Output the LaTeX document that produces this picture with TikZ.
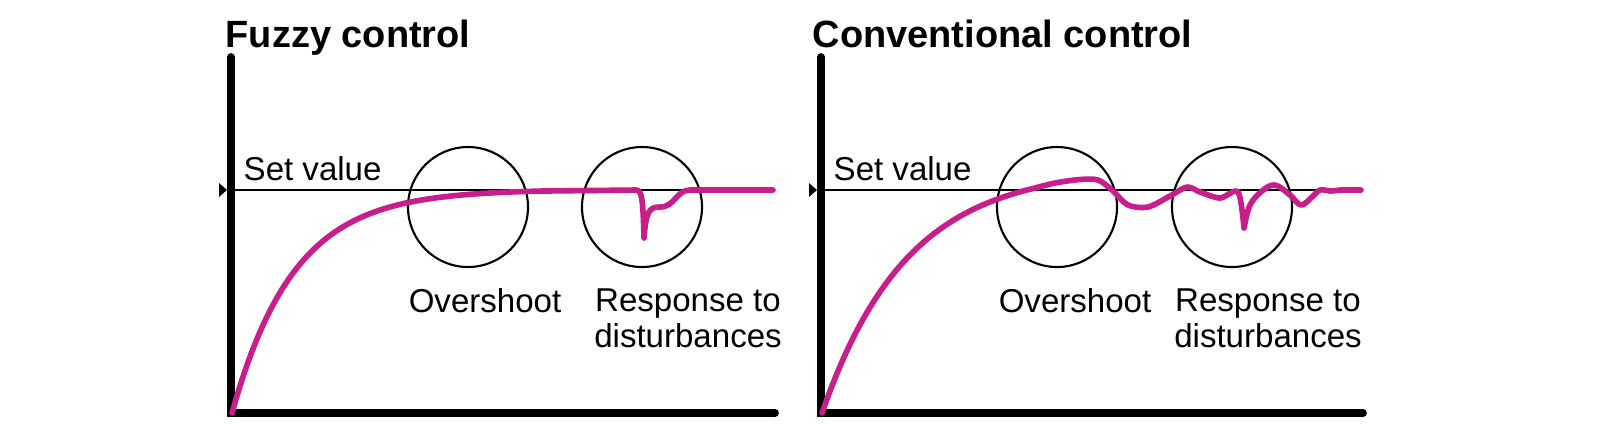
\documentclass[tikz,border=0pt]{standalone}
\usepackage{fontspec}
\setmainfont{Liberation Sans}
\begin{document}
\begin{tikzpicture}[x=0.01cm,y=-0.01cm,line cap=round]
    \useasboundingbox (0,0) rectangle (1600,435);

    % Styles
    \tikzstyle{axes}=[line width=2.2pt]
    \tikzstyle{setline}=[line width=0.5pt]
    \tikzstyle{ring}=[line width=0.6pt]
    \tikzstyle{response}=[line width=1.6pt, color=respcol, line join=round]
    \tikzstyle{label}=[font=\fontsize{9.4pt}{10.2pt}\selectfont, align=center, inner sep=0pt]
    \tikzstyle{title}=[font=\fontsize{10.8pt}{12pt}\selectfont\bfseries, anchor=base west, inner sep=0pt]
    \definecolor{respcol}{RGB}{200,30,140}

    % let's define some key values
    \def\yset{190}
    \def\ybase{413}
    \def\ytop{57}

    % ---------- left panel: fuzzy control ----------
    \node[title] (ftitle) at (225,47) {Fuzzy control};
    \coordinate (fo) at (231,\ybase);
    \coordinate (fy) at (231,\ytop);
    \coordinate (fx) at (775,\ybase);
    \draw[axes] (fy) -- (fo) -- (fx);
    \coordinate (fs) at (229,\yset);
    \coordinate (fe) at (773,\yset);
    \draw[setline] (fs) -- (fe);
    \fill (219,\yset-7) -- (227,\yset) -- (219,\yset+7) -- cycle;
    \node[label, anchor=base west] (fset) at (243,180) {Set value};

    % circles
    \draw[ring] (468,207) circle (60);
    \draw[ring] (642,207) circle (60);

    % response curve
    \draw[response] plot[domain=232:540, samples=80] (\x, {\ybase-223.5*(1-exp(-(\x-232)/62))})
        -- (636,\yset) .. controls (642,\yset) and (643,200) .. (644,238)
        .. controls (646,210) and (650,207) .. (660,207)
        .. controls (675,207) and (676,\yset) .. (690,\yset) -- (fe);

    \node[label, anchor=north] (fover) at (485,288) {Overshoot};
    \node[label, anchor=north] (fdist) at (688,288) {Response to\\disturbances};

    % ---------- right panel: conventional control ----------
    \node[title] (ctitle) at (812,47) {Conventional control};
    \coordinate (co) at (821,\ybase);
    \coordinate (cy) at (821,\ytop);
    \coordinate (cx) at (1363,\ybase);
    \draw[axes] (cy) -- (co) -- (cx);
    \coordinate (cs) at (819,\yset);
    \coordinate (ce) at (1361,\yset);
    \draw[setline] (cs) -- (ce);
    \fill (809,\yset-7) -- (817,\yset) -- (809,\yset+7) -- cycle;
    \node[label, anchor=base west] (cset) at (833,180) {Set value};

    % circles
    \draw[ring] (1057,207) circle (60);
    \draw[ring] (1232,207) circle (60);

    % response curve
    \draw[response] plot[domain=822:1030, samples=80] (\x, {\ybase-245*(1-exp(-(\x-822)/85))})
        plot[smooth, tension=0.5] coordinates {(1030,189.3) (1055,183) (1080,179.5) (1098,180) (1112,190) (1128,205)
        (1148,207) (1170,196) (1187,187) (1200,192) (1220,198) (1238,192) (1244,228)}
        plot[smooth, tension=0.6] coordinates {(1244,228) (1250,205) (1262,191) (1275,185)
        (1290,195) (1301,205) (1312,197) (1320,190) (1330,191) (1340,190)} -- (ce);

    \node[label, anchor=north] (cover) at (1075,288) {Overshoot};
    \node[label, anchor=north] (cdist) at (1268,288) {Response to\\disturbances};
\end{tikzpicture}
\end{document}
